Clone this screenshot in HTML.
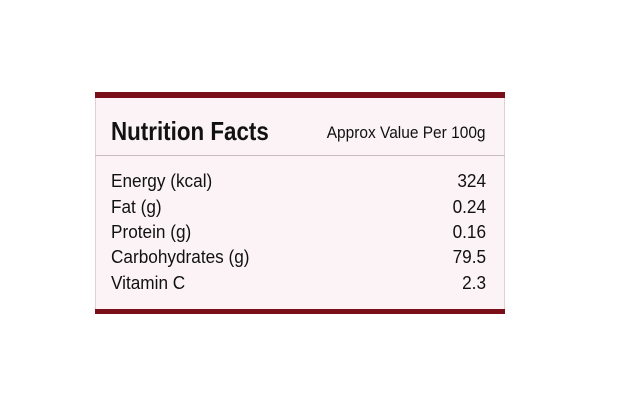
<!DOCTYPE html>
<html><head><style>
body{margin:0;width:620px;height:400px;background:#fff;position:relative;font-family:"Liberation Sans",sans-serif;color:#111;}
.box{position:absolute;left:95px;top:92px;width:410px;height:222px;background:#fbf3f5;border-left:1px solid #e0cfd3;border-right:1px solid #e0cfd3;box-sizing:border-box;}
.bar{position:absolute;left:95px;width:410px;background:#7a0f1a;}
.t{position:absolute;white-space:nowrap;transform-origin:left center;transform:scaleX(0.955);line-height:1;}
.r{transform-origin:right center;text-align:right;right:134px;}
</style></head><body>
<div class="box"></div>
<div class="bar" style="top:92px;height:6px"></div>
<div class="bar" style="top:309px;height:5px"></div>
<div style="position:absolute;left:95px;width:410px;top:155px;height:1px;background:#c9bcc0"></div>
<div class="t" style="left:111px;top:118px;font-size:26px;font-weight:bold;transform:scaleX(0.86)">Nutrition Facts</div>
<div class="t r" style="top:124px;font-size:17px;transform:scaleX(0.91)">Approx Value Per 100g</div>
<div class="t" style="left:111px;top:172px;font-size:18px">Energy (kcal)</div>
<div class="t r" style="top:172px;font-size:18px">324</div>
<div class="t" style="left:111px;top:198px;font-size:18px">Fat (g)</div>
<div class="t r" style="top:198px;font-size:18px">0.24</div>
<div class="t" style="left:111px;top:223px;font-size:18px">Protein (g)</div>
<div class="t r" style="top:223px;font-size:18px">0.16</div>
<div class="t" style="left:111px;top:248px;font-size:18px">Carbohydrates (g)</div>
<div class="t r" style="top:248px;font-size:18px">79.5</div>
<div class="t" style="left:111px;top:274px;font-size:18px">Vitamin C</div>
<div class="t r" style="top:274px;font-size:18px">2.3</div>
</body></html>
